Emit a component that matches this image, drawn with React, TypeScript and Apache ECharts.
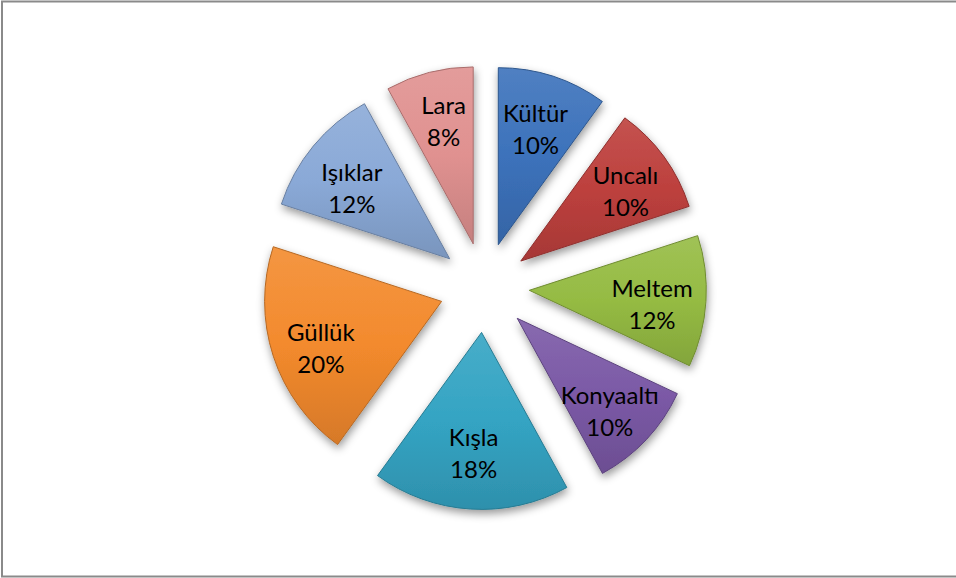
import React, { useEffect, useRef } from "react";
import * as echarts from "echarts";

const districts = ["Kültür", "Uncalı", "Meltem", "Konyaaltı", "Kışla", "Güllük", "Işıklar", "Lara"];
const shares = [10, 10, 12, 10, 18, 20, 12, 8];
const palette = ["#3c72bb", "#bd403d", "#95bb43", "#7b59a6", "#34a4c3", "#f38a2d", "#8aa9d7", "#e09190"];
// small per-label nudges (x, y) in pixels to mirror the original label placement
const labelNudge: [number, number][] = [
  [-2, 5], [2, 4], [-4, 5], [0, 5], [0, -7], [0, 7], [0, 10], [2, 0],
];

function shade(hex: string, amt: number): string {
  const n = parseInt(hex.slice(1), 16);
  let r = (n >> 16) & 255, g = (n >> 8) & 255, b = n & 255;
  const f = (c: number) => {
    const v = amt >= 0 ? c + (255 - c) * amt : c * (1 + amt);
    return Math.max(0, Math.min(255, Math.round(v)));
  };
  r = f(r); g = f(g); b = f(b);
  return "#" + ((1 << 24) + (r << 16) + (g << 8) + b).toString(16).slice(1);
}

export default function App() {
  const ref = useRef<HTMLDivElement>(null);
  useEffect(() => {
    if (!ref.current) return;
    const chart = echarts.init(ref.current, null, { renderer: "svg" });
    const center = [484.4, 287.5];
    const offset = 45;
    const shapeData = districts.map((name, i) => ({
      name,
      value: shares[i],
      selected: true,
      itemStyle: {
        color: new echarts.graphic.LinearGradient(0, 0, 0, 1, [
          { offset: 0, color: shade(palette[i], 0.1) },
          { offset: 0.5, color: palette[i] },
          { offset: 1, color: shade(palette[i], -0.12) },
        ]),
        borderColor: shade(palette[i], -0.25),
      },
    }));
    const labelData = districts.map((name, i) => ({
      name,
      value: shares[i],
      selected: true,
    }));
    chart.setOption({
      animation: false,
      graphic: [
        {
          type: "rect",
          shape: { x: 2, y: 1.5, width: 980, height: 575 },
          style: { fill: "none", stroke: "#8a8a8a", lineWidth: 2 },
          silent: true,
        },
      ],
      series: [
        {
          type: "pie",
          center,
          radius: [0, 177],
          startAngle: 90,
          clockwise: true,
          selectedMode: "multiple",
          selectedOffset: offset,
          data: shapeData,
          label: { show: false },
          labelLine: { show: false },
          silent: true,
          emphasis: { disabled: true },
          itemStyle: {
            borderWidth: 1,
            shadowBlur: 8,
            shadowOffsetX: 1,
            shadowOffsetY: 4,
            shadowColor: "rgba(0,0,0,0.4)",
          },
          select: { itemStyle: { borderWidth: 1 } },
        },
        {
          type: "pie",
          center,
          radius: [0, 248],
          startAngle: 90,
          clockwise: true,
          selectedMode: "multiple",
          selectedOffset: offset,
          data: labelData,
          silent: true,
          emphasis: { disabled: true },
          itemStyle: { color: "rgba(0,0,0,0)", borderWidth: 0 },
          select: { itemStyle: { color: "rgba(0,0,0,0)", borderWidth: 0 } },
          labelLine: { show: false },
          labelLayout: (p: any) => {
            const n = labelNudge[p.dataIndex] || [0, 0];
            return { dx: n[0], dy: n[1] };
          },
          label: {
            show: true,
            position: "inside",
            formatter: (p: any) => `${p.name}\n${Math.round(p.percent)}%`,
            fontFamily: "Lato",
            fontSize: 24,
            lineHeight: 32,
            color: "#000",
            align: "center",
          },
        },
      ],
    });
    return () => chart.dispose();
  }, []);
  return (
    <div
      ref={ref}
      style={{ position: "fixed", left: 0, top: 0, width: 956, height: 578, background: "#fff" }}
    />
  );
}
